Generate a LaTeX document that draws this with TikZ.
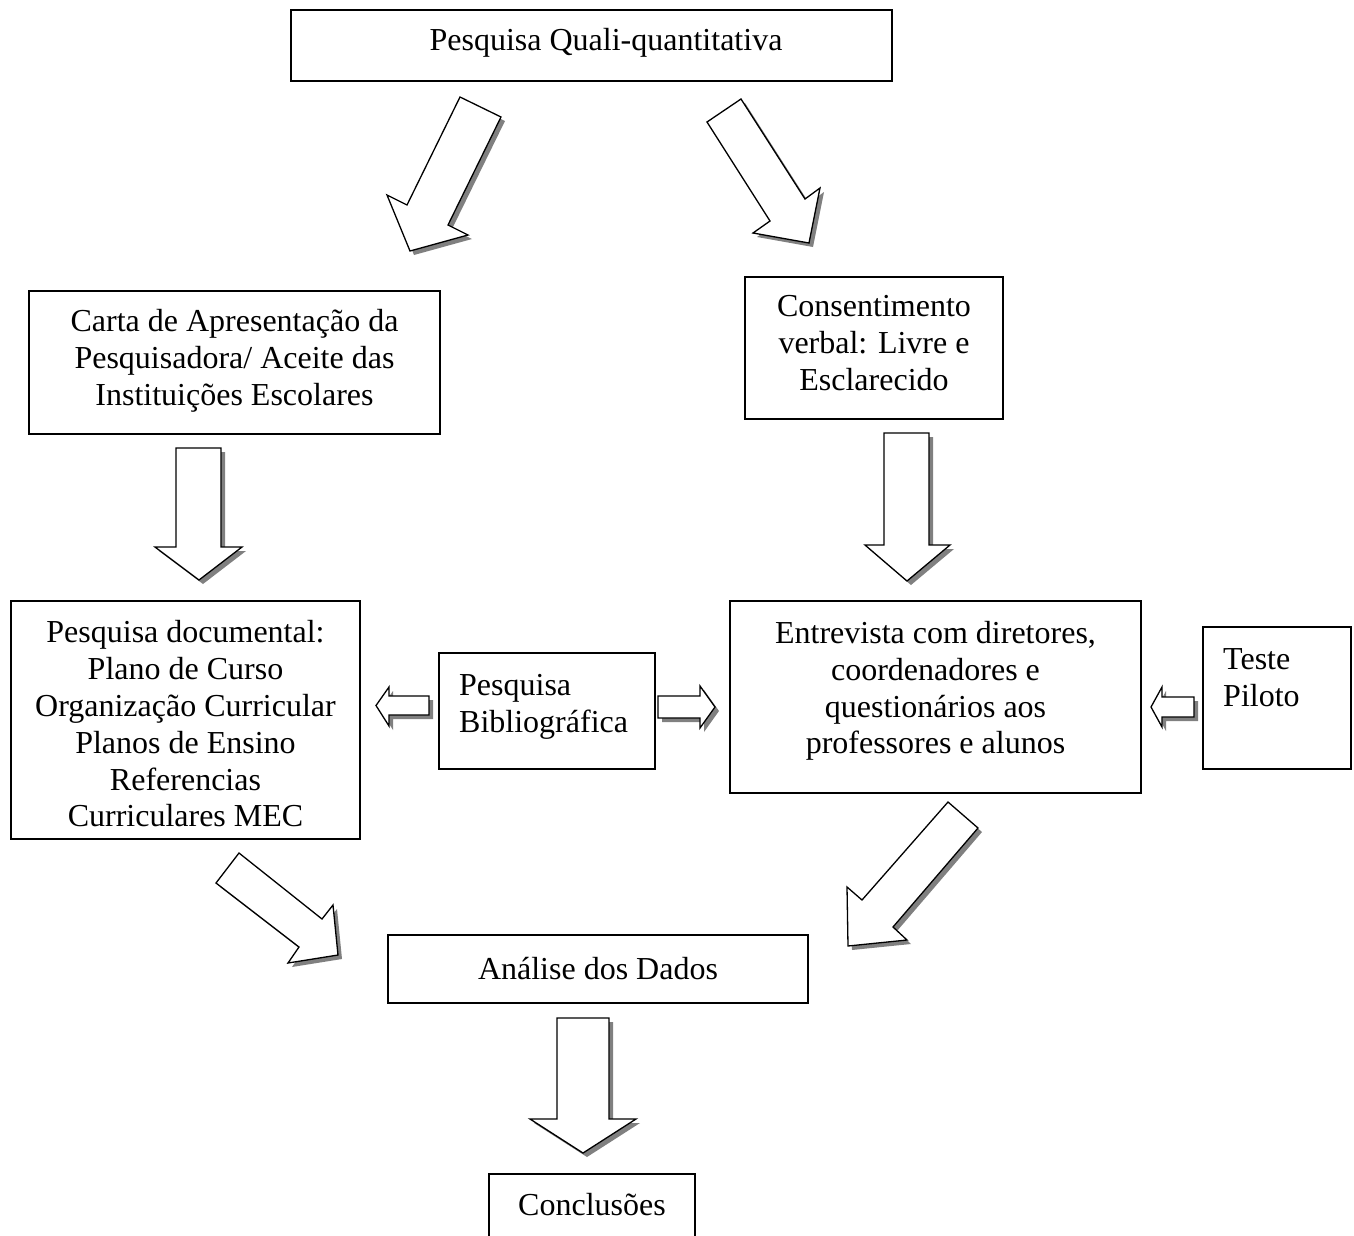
\documentclass[tikz,border=0pt]{standalone}
\usepackage{fontspec}
\setmainfont{Liberation Serif}
\newcommand\blockarrow[1]{\fill[shad, shift={(4,4)}] #1 -- cycle; \filldraw[barr] #1 -- cycle;}
\begin{document}
\begin{tikzpicture}[x=1pt,y=-1pt,
  box/.style={draw, line width=1.5pt, rectangle, inner sep=0pt},
  lbl/.style={inner sep=0pt, font=\fontsize{32}{36.8}\selectfont, align=center},
  barr/.style={draw, fill=white, line width=1.3pt, line join=miter},
  shad/.style={fill=black!50}]
\useasboundingbox (0,0) rectangle (1354,1235);
% boxes
\node[box, minimum width=601pt, minimum height=71pt] (top) at (591.5,45.5) {};
\node[lbl] (topt) at (606,43) {Pesquisa Quali-quantitativa};
\node[box, minimum width=411pt, minimum height=143pt] (carta) at (234.5,362.5) {};
\node[lbl] (cartat) at (234.5,361) {Carta de Apresentação da\\Pesquisadora/ Aceite das\\Instituições Escolares};
\node[box, minimum width=258pt, minimum height=142pt] (cons) at (874,348) {};
\node[lbl] (const) at (874,343) {Consentimento\\verbal: Livre e\\Esclarecido};
\node[box, minimum width=349pt, minimum height=238pt] (doc) at (185.5,720) {};
\node[lbl] (doct) at (185.5,724) {Pesquisa documental:\\Plano de Curso\\Organização Curricular\\Planos de Ensino\\Referencias\\Curriculares MEC};
\node[box, minimum width=216pt, minimum height=116pt] (bib) at (547,711) {};
\node[lbl, anchor=west, align=left] (bibt) at (459,707) {Pesquisa\\Bibliográfica};
\node[box, minimum width=411pt, minimum height=192pt] (ent) at (935.5,697) {};
\node[lbl] (entt) at (935.5,691) {Entrevista com diretores,\\coordenadores e\\questionários aos\\professores e alunos};
\node[box, minimum width=148pt, minimum height=142pt] (teste) at (1277,698) {};
\node[lbl, anchor=west, align=left] (testet) at (1223,677.5) {Teste\\Piloto};
\node[box, minimum width=420pt, minimum height=68pt] (anal) at (598,969) {};
\node[lbl] (analt) at (598,969) {Análise dos Dados};
\node[lbl] (conc) at (592,1205) {Conclusões};
\draw[line width=1.5pt] (489,1240) -- (489,1174) -- (695,1174) -- (695,1240);
% block arrows
\blockarrow{(460,97) -- (501,117) -- (448,225) -- (468,235) -- (410,251) -- (387,195) -- (407,205)}
\blockarrow{(707,122) -- (741,99) -- (805,199) -- (820,188) -- (809,243) -- (753,233) -- (770,221)}
\blockarrow{(176,448) -- (221,448) -- (221,547) -- (242,547) -- (199,580) -- (155,547) -- (176,547)}
\blockarrow{(884,433) -- (929,433) -- (929,545) -- (950,545) -- (907,581) -- (865,545) -- (884,545)}
\blockarrow{(557,1018) -- (609,1018) -- (609,1119) -- (636,1119) -- (583,1153) -- (530,1119) -- (557,1119)}
\blockarrow{(239,853) -- (322,919) -- (333,905) -- (338,955) -- (288,963) -- (299,947) -- (216,883)}
\blockarrow{(948,802) -- (978,828) -- (893,927) -- (907,940) -- (848,946) -- (847,887) -- (862,900)}
\blockarrow{(429,696) -- (429,715) -- (389,715) -- (389,726) -- (376,705.5) -- (389,687) -- (389,696)}
\blockarrow{(658,696) -- (700,696) -- (700,686) -- (715,707) -- (700,728) -- (700,718) -- (658,718)}
\blockarrow{(1194,697) -- (1194,717) -- (1162,717) -- (1162,727) -- (1151,707) -- (1162,687) -- (1162,697)}
\end{tikzpicture}
\end{document}
